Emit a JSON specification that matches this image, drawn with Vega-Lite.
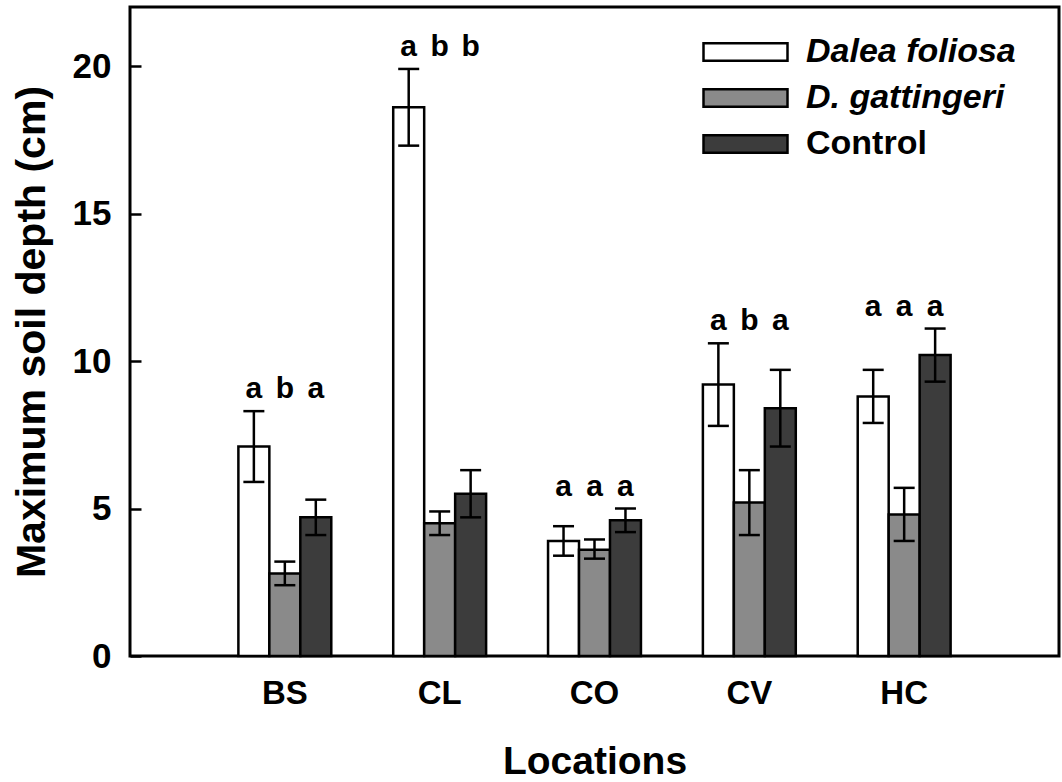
{
  "$schema": "https://vega.github.io/schema/vega-lite/v6.json",
  "width": 929,
  "height": 649,
  "autosize": "none",
  "padding": {"left": 130, "top": 7, "right": 3, "bottom": 126},
  "background": "white",
  "config": {
    "font": "Liberation Sans",
    "view": {"stroke": "black", "strokeWidth": 3},
    "axis": {"grid": false, "domain": false, "labelColor": "black", "titleColor": "black", "labelFontWeight": "bold", "titleFontWeight": "bold"}
  },
  "data": {
    "values": [
      {"location": "BS", "treatment": "Dalea foliosa", "mean": 7.1, "lo": 5.9, "hi": 8.3, "letter": "a"},
      {"location": "BS", "treatment": "D. gattingeri", "mean": 2.8, "lo": 2.4, "hi": 3.2, "letter": "b"},
      {"location": "BS", "treatment": "Control", "mean": 4.7, "lo": 4.1, "hi": 5.3, "letter": "a"},
      {"location": "CL", "treatment": "Dalea foliosa", "mean": 18.6, "lo": 17.3, "hi": 19.9, "letter": "a"},
      {"location": "CL", "treatment": "D. gattingeri", "mean": 4.5, "lo": 4.1, "hi": 4.9, "letter": "b"},
      {"location": "CL", "treatment": "Control", "mean": 5.5, "lo": 4.7, "hi": 6.3, "letter": "b"},
      {"location": "CO", "treatment": "Dalea foliosa", "mean": 3.9, "lo": 3.4, "hi": 4.4, "letter": "a"},
      {"location": "CO", "treatment": "D. gattingeri", "mean": 3.6, "lo": 3.3, "hi": 3.95, "letter": "a"},
      {"location": "CO", "treatment": "Control", "mean": 4.6, "lo": 4.2, "hi": 5.0, "letter": "a"},
      {"location": "CV", "treatment": "Dalea foliosa", "mean": 9.2, "lo": 7.8, "hi": 10.6, "letter": "a"},
      {"location": "CV", "treatment": "D. gattingeri", "mean": 5.2, "lo": 4.1, "hi": 6.3, "letter": "b"},
      {"location": "CV", "treatment": "Control", "mean": 8.4, "lo": 7.1, "hi": 9.7, "letter": "a"},
      {"location": "HC", "treatment": "Dalea foliosa", "mean": 8.8, "lo": 7.9, "hi": 9.7, "letter": "a"},
      {"location": "HC", "treatment": "D. gattingeri", "mean": 4.8, "lo": 3.9, "hi": 5.7, "letter": "a"},
      {"location": "HC", "treatment": "Control", "mean": 10.2, "lo": 9.3, "hi": 11.1, "letter": "a"}
    ]
  },
  "transform": [
    {"joinaggregate": [{"op": "max", "field": "hi", "as": "grouptop"}], "groupby": ["location"]}
  ],
  "encoding": {
    "x": {
      "field": "location", "type": "nominal", "title": "Locations",
      "scale": {"paddingInner": 0.4, "paddingOuter": 0.7},
      "axis": {"ticks": false, "labelAngle": 0, "labelFontSize": 33, "labelPadding": 21, "titleFontSize": 39, "titlePadding": 32}
    },
    "xOffset": {"field": "treatment", "type": "nominal", "sort": ["Dalea foliosa", "D. gattingeri", "Control"]}
  },
  "layer": [
    {
      "mark": {"type": "bar", "stroke": "black", "strokeWidth": 2.5},
      "encoding": {
        "y": {
          "field": "mean", "type": "quantitative", "title": "Maximum soil depth (cm)",
          "scale": {"domain": [0, 22], "nice": false},
          "axis": {"values": [0, 5, 10, 15, 20], "tickSize": -11, "tickWidth": 2.5, "tickColor": "black", "labelFontSize": 35, "labelPadding": 30, "titleFontSize": 41, "titlePadding": 19}
        },
        "fill": {
          "field": "treatment", "type": "nominal",
          "scale": {"domain": ["Dalea foliosa", "D. gattingeri", "Control"], "range": ["white", "#8a8a8a", "#3c3c3c"]},
          "legend": {
            "orient": "none", "legendX": 572, "legendY": 35, "title": null,
            "symbolType": "M-1,-0.21H1V0.21H-1Z", "symbolSize": 7056,
            "symbolStrokeColor": "black", "symbolStrokeWidth": 2.5, "symbolOpacity": 1,
            "labelFontSize": 34, "labelFontWeight": "bold", "labelColor": "black", "labelOffset": 17, "labelLimit": 400,
            "clipHeight": 20, "rowPadding": 12,
            "encode": {"labels": {"update": {"fontStyle": {"signal": "datum.label === 'Control' ? 'normal' : 'italic'"}}}}
          }
        }
      }
    },
    {
      "mark": {"type": "rule", "strokeWidth": 2.5, "color": "black"},
      "encoding": {"y": {"field": "lo", "type": "quantitative"}, "y2": {"field": "hi"}}
    },
    {
      "mark": {"type": "tick", "orient": "horizontal", "size": 21, "thickness": 2.5, "color": "black", "opacity": 1},
      "encoding": {"y": {"field": "hi", "type": "quantitative"}}
    },
    {
      "mark": {"type": "tick", "orient": "horizontal", "size": 21, "thickness": 2.5, "color": "black", "opacity": 1},
      "encoding": {"y": {"field": "lo", "type": "quantitative"}}
    },
    {
      "mark": {"type": "text", "dy": -13, "baseline": "alphabetic", "fontSize": 30, "fontWeight": "bold", "color": "black"},
      "encoding": {"y": {"field": "grouptop", "type": "quantitative"}, "text": {"field": "letter"}}
    }
  ]
}
